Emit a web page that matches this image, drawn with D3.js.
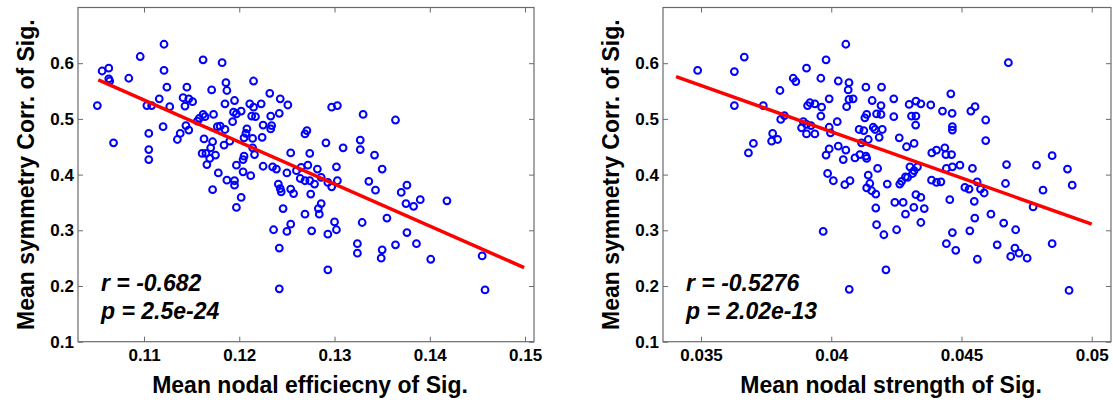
<!DOCTYPE html>
<html>
<head>
<meta charset="utf-8">
<script src="https://cdn.jsdelivr.net/npm/d3@7"></script>
<style>
  html, body { margin: 0; padding: 0; background: #fff; }
  svg { display: block; font-family: "Liberation Sans", Arial, sans-serif; }
  .tick text { font-size: 17px; font-weight: bold; fill: #000; }
  .tick line { stroke: #6b6b6b; }
  .domain { display: none; }
</style>
</head>
<body>
<svg id="chart" width="1113" height="403"></svg>
<script>
// left panel: nodal efficiency vs symmetry correlation
var effX = [0.1056, 0.1063, 0.1063, 0.1064, 0.1051, 0.1068, 0.1084, 0.1096, 0.1121, 0.1121,
  0.1124, 0.1116, 0.1103, 0.1108, 0.1127, 0.1120, 0.1105, 0.1105, 0.1105, 0.1145,
  0.1141, 0.1147, 0.1151, 0.1143, 0.1162, 0.1182, 0.1171, 0.1186, 0.1187, 0.1215,
  0.1195, 0.1185, 0.1173, 0.1162, 0.1164, 0.1158, 0.1156, 0.1193, 0.1194, 0.1197,
  0.1202, 0.1211, 0.1215, 0.1213, 0.1217, 0.1223, 0.1232, 0.1243, 0.1251, 0.1242,
  0.1233, 0.1225, 0.1234, 0.1233, 0.1224, 0.1144, 0.1147, 0.1138, 0.1135, 0.1177,
  0.1180, 0.1185, 0.1190, 0.1184, 0.1163, 0.1172, 0.1170, 0.1161, 0.1165, 0.1175,
  0.1169, 0.1166, 0.1178, 0.1187, 0.1195, 0.1195, 0.1172, 0.1202, 0.1205, 0.1204,
  0.1197, 0.1204, 0.1212, 0.1208, 0.1207, 0.1205, 0.1214, 0.1214, 0.1216, 0.1225,
  0.1235, 0.1239, 0.1250, 0.1254, 0.1241, 0.1243, 0.1244, 0.1254, 0.1257, 0.1269,
  0.1271, 0.1274, 0.1272, 0.1265, 0.1260, 0.1264, 0.1269, 0.1274, 0.1279, 0.1282,
  0.1291, 0.1297, 0.1303, 0.1309, 0.1302, 0.1303, 0.1297, 0.1293, 0.1286, 0.1275,
  0.1286, 0.1330, 0.1327, 0.1327, 0.1342, 0.1350, 0.1336, 0.1343, 0.1364, 0.1376,
  0.1370, 0.1375, 0.1390, 0.1418, 0.1197, 0.1246, 0.1236, 0.1250, 0.1254, 0.1242,
  0.1242, 0.1269, 0.1283, 0.1284, 0.1276, 0.1293, 0.1300, 0.1302, 0.1293, 0.1329,
  0.1324, 0.1324, 0.1355, 0.1350, 0.1349, 0.1364, 0.1383, 0.1376, 0.1386, 0.1401,
  0.1455, 0.1458];
var effY = [0.586, 0.591, 0.572, 0.568, 0.524, 0.457, 0.573, 0.612, 0.634, 0.587,
  0.557, 0.536, 0.524, 0.524, 0.522, 0.486, 0.474, 0.445, 0.427, 0.557,
  0.538, 0.536, 0.531, 0.523, 0.606, 0.601, 0.552, 0.565, 0.551, 0.568,
  0.533, 0.527, 0.508, 0.508, 0.504, 0.501, 0.496, 0.495, 0.512, 0.509,
  0.514, 0.527, 0.521, 0.505, 0.504, 0.527, 0.546, 0.536, 0.525, 0.510,
  0.505, 0.489, 0.488, 0.482, 0.467, 0.488, 0.480, 0.474, 0.463, 0.486,
  0.487, 0.481, 0.460, 0.453, 0.464, 0.459, 0.448, 0.438, 0.438, 0.435,
  0.429, 0.418, 0.403, 0.390, 0.389, 0.381, 0.373, 0.359, 0.433, 0.427,
  0.417, 0.405, 0.398, 0.482, 0.474, 0.466, 0.465, 0.448, 0.436, 0.415,
  0.414, 0.410, 0.403, 0.439, 0.383, 0.375, 0.369, 0.374, 0.366, 0.473,
  0.479, 0.438, 0.417, 0.413, 0.407, 0.393, 0.389, 0.389, 0.383, 0.410,
  0.457, 0.521, 0.524, 0.448, 0.414, 0.389, 0.378, 0.386, 0.395, 0.365,
  0.348, 0.508, 0.462, 0.445, 0.435, 0.410, 0.388, 0.372, 0.498, 0.381,
  0.368, 0.348, 0.355, 0.353, 0.341, 0.339, 0.301, 0.298, 0.311, 0.268,
  0.195, 0.329, 0.339, 0.329, 0.299, 0.293, 0.315, 0.301, 0.229, 0.314,
  0.276, 0.259, 0.322, 0.265, 0.250, 0.274, 0.343, 0.296, 0.276, 0.248,
  0.254, 0.193];
var effFitX = [0.1052, 0.1499];
var effFitY = [0.570, 0.233];
var effTicksX = [0.11, 0.12, 0.13, 0.14, 0.15];

// right panel: nodal strength vs symmetry correlation
var strX = [0.03487, 0.03628, 0.03666, 0.03628, 0.03739, 0.03701, 0.03682, 0.03775, 0.03771, 0.03794,
  0.03803, 0.03806, 0.03820, 0.03854, 0.03864, 0.03905, 0.03960, 0.03980, 0.03992, 0.03963,
  0.03960, 0.03909, 0.03918, 0.03937, 0.03893, 0.03886, 0.03905, 0.03922, 0.03905, 0.03937,
  0.03992, 0.03997, 0.04023, 0.03980, 0.03992, 0.04027, 0.04056, 0.04046, 0.04091, 0.03986,
  0.04008, 0.04072, 0.04052, 0.04056, 0.04027, 0.04068, 0.04065, 0.04068, 0.04084, 0.04059,
  0.04133, 0.04193, 0.04157, 0.04191, 0.04136, 0.04129, 0.04174, 0.04191, 0.04240, 0.04240,
  0.04107, 0.04125, 0.04161, 0.04168, 0.04196, 0.04142, 0.04184, 0.04116, 0.04110, 0.04133,
  0.04136, 0.04142, 0.04178, 0.04148, 0.04136, 0.04155, 0.04171, 0.04215, 0.04261, 0.04289,
  0.04318, 0.04299, 0.04325, 0.04344, 0.04382, 0.04308, 0.04325, 0.04324, 0.04427, 0.04464,
  0.04459, 0.04465, 0.04465, 0.04536, 0.04552, 0.04593, 0.04593, 0.04302, 0.04318, 0.04312,
  0.04331, 0.04386, 0.04404, 0.04436, 0.04440, 0.04462, 0.04442, 0.04465, 0.04494, 0.04385,
  0.04404, 0.04421, 0.04263, 0.04270, 0.04285, 0.04293, 0.04325, 0.04344, 0.04542, 0.04560,
  0.04513, 0.04529, 0.04573, 0.04587, 0.04673, 0.04669, 0.04680, 0.04788, 0.04848, 0.04907,
  0.04925, 0.04813, 0.04455, 0.04549, 0.04244, 0.04276, 0.04171, 0.04174, 0.04202, 0.04285,
  0.04251, 0.04317, 0.04357, 0.04344, 0.04551, 0.04532, 0.04465, 0.04442, 0.04478, 0.04561,
  0.04613, 0.04662, 0.04708, 0.04637, 0.04705, 0.04689, 0.04721, 0.04752, 0.04848, 0.04775,
  0.03969, 0.04210, 0.04069, 0.04913];
var strY = [0.587, 0.585, 0.611, 0.524, 0.524, 0.456, 0.439, 0.474, 0.460, 0.463,
  0.551, 0.499, 0.506, 0.573, 0.567, 0.591, 0.573, 0.606, 0.536, 0.521,
  0.505, 0.524, 0.529, 0.527, 0.495, 0.484, 0.490, 0.488, 0.473, 0.473,
  0.485, 0.475, 0.495, 0.435, 0.446, 0.451, 0.444, 0.427, 0.430, 0.402,
  0.389, 0.389, 0.382, 0.634, 0.568, 0.565, 0.552, 0.535, 0.536, 0.522,
  0.557, 0.557, 0.533, 0.524, 0.508, 0.502, 0.509, 0.508, 0.536, 0.504,
  0.481, 0.479, 0.485, 0.481, 0.481, 0.463, 0.467, 0.457, 0.436, 0.433,
  0.429, 0.399, 0.411, 0.384, 0.376, 0.371, 0.365, 0.383, 0.466, 0.450,
  0.456, 0.526, 0.532, 0.527, 0.525, 0.505, 0.505, 0.489, 0.514, 0.510,
  0.545, 0.486, 0.480, 0.514, 0.522, 0.498, 0.461, 0.414, 0.407, 0.402,
  0.414, 0.439, 0.444, 0.448, 0.436, 0.436, 0.411, 0.414, 0.417, 0.390,
  0.386, 0.387, 0.383, 0.388, 0.396, 0.395, 0.364, 0.359, 0.411, 0.387,
  0.377, 0.374, 0.374, 0.367, 0.418, 0.384, 0.601, 0.417, 0.434, 0.410,
  0.381, 0.372, 0.355, 0.352, 0.350, 0.350, 0.340, 0.310, 0.292, 0.329,
  0.301, 0.341, 0.339, 0.314, 0.322, 0.299, 0.296, 0.276, 0.264, 0.248,
  0.329, 0.313, 0.301, 0.274, 0.268, 0.253, 0.259, 0.250, 0.276, 0.342,
  0.298, 0.229, 0.194, 0.192];
var strFitX = [0.03404, 0.05];
var strFitY = [0.576, 0.311];
var strTicksX = [0.035, 0.04, 0.045, 0.05];

var ticksY = [0.1, 0.2, 0.3, 0.4, 0.5, 0.6];

var svg = d3.select("#chart");

function drawPanel(p) {
    let x = d3.scaleLinear().domain(p.xDomain).range([p.left, p.right]);
    let y = d3.scaleLinear().domain([0.1, 0.7]).range([p.bottom, p.top]);
    let g = svg.append("g");

    // box
    g.append("rect")
        .attr("x", p.left).attr("y", p.top)
        .attr("width", p.right - p.left).attr("height", p.bottom - p.top)
        .attr("fill", "none").attr("stroke", "#6b6b6b").attr("stroke-width", 1.2);

    g.append("g")
        .attr("transform", `translate(0,${p.bottom})`)
        .call(d3.axisBottom(x).tickValues(p.ticksX).tickSizeInner(-5).tickSizeOuter(0)
            .tickPadding(7).tickFormat(d => String(d)));
    g.append("g")
        .attr("transform", `translate(0,${p.top})`)
        .call(d3.axisTop(x).tickValues(p.ticksX).tickSizeInner(-5).tickSizeOuter(0).tickFormat(""));
    g.append("g")
        .attr("transform", `translate(${p.left},0)`)
        .call(d3.axisLeft(y).tickValues(ticksY).tickSizeInner(-5).tickSizeOuter(0)
            .tickPadding(4).tickFormat(d => String(d)));
    g.append("g")
        .attr("transform", `translate(${p.right},0)`)
        .call(d3.axisRight(y).tickValues(ticksY).tickSizeInner(-5).tickSizeOuter(0).tickFormat(""));

    // points
    g.append("g").selectAll("circle")
        .data(d3.range(p.xs.length))
        .enter().append("circle")
        .attr("cx", function(i) { return x(p.xs[i]); })
        .attr("cy", function(i) { return y(p.ys[i]); })
        .attr("r", 3.4)
        .attr("fill", "none")
        .attr("stroke", "#0000ff")
        .attr("stroke-width", 2);

    // fit line
    g.append("line")
        .attr("x1", x(p.fitX[0])).attr("y1", y(p.fitY[0]))
        .attr("x2", x(p.fitX[1])).attr("y2", y(p.fitY[1]))
        .attr("stroke", "#ff0000").attr("stroke-width", 3.5);

    // stats
    g.append("text")
        .attr("x", p.left + 23).attr("y", 291)
        .attr("font-size", 23).attr("font-weight", "bold").attr("font-style", "italic")
        .text(p.rText);
    g.append("text")
        .attr("x", p.left + 23).attr("y", 319)
        .attr("font-size", 23).attr("font-weight", "bold").attr("font-style", "italic")
        .text(p.pText);

    // axis labels
    g.append("text")
        .attr("x", (p.left + p.right) / 2 + 4).attr("y", 393)
        .attr("text-anchor", "middle")
        .attr("font-size", 23).attr("font-weight", "bold")
        .text(p.xLabel);
    g.append("text")
        .attr("transform", `translate(${p.left - 44},${(p.top + p.bottom) / 2}) rotate(-90)`)
        .attr("text-anchor", "middle")
        .attr("font-size", 23).attr("font-weight", "bold")
        .text("Mean symmetry Corr. of Sig.");
}

drawPanel({
    left: 78, right: 534, top: 7.5, bottom: 341.7,
    xDomain: [0.10307, 0.15094],
    ticksX: effTicksX, xs: effX, ys: effY,
    fitX: effFitX, fitY: effFitY,
    rText: "r = -0.682", pText: "p = 2.5e-24",
    xLabel: "Mean nodal efficiecny of Sig."
});

drawPanel({
    left: 663, right: 1111, top: 7.5, bottom: 341.7,
    xDomain: [0.03354, 0.05074],
    ticksX: strTicksX, xs: strX, ys: strY,
    fitX: strFitX, fitY: strFitY,
    rText: "r = -0.5276", pText: "p = 2.02e-13",
    xLabel: "Mean nodal strength of Sig."
});
</script>
</body>
</html>
